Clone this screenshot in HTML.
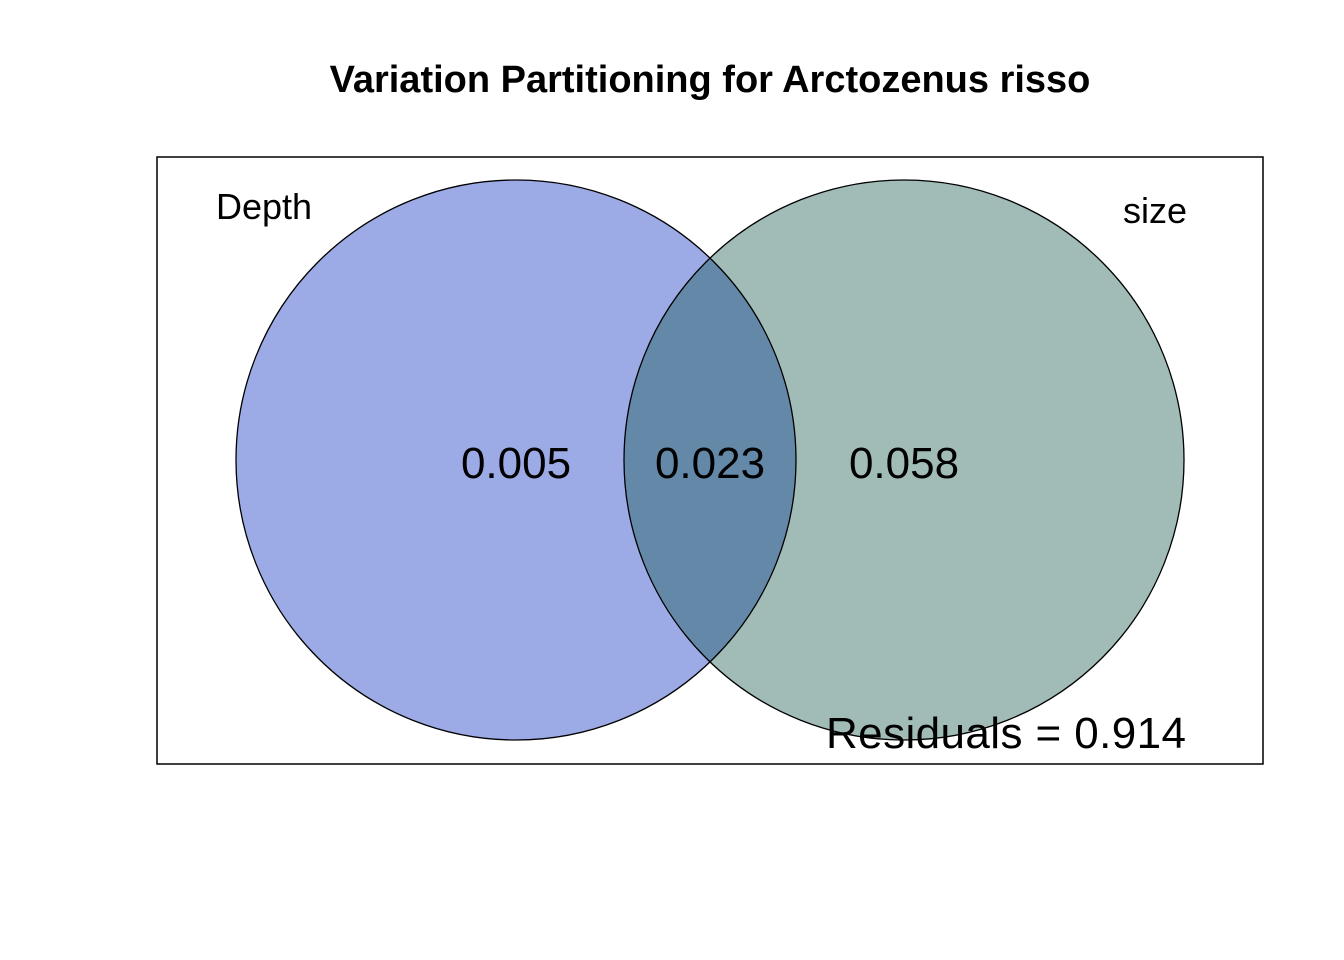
<!DOCTYPE html>
<html><head><meta charset="utf-8"><style>
html,body{margin:0;padding:0;background:#fff;}
svg{display:block;font-family:"Liberation Sans",Arial,sans-serif;}
</style></head><body>
<svg id="chart" width="1344" height="960" viewBox="0 0 1344 960">
<text x="710" y="92" text-anchor="middle" font-size="38" font-weight="bold">Variation Partitioning for Arctozenus risso</text>
<rect x="157" y="157" width="1106" height="607" fill="none" stroke="#000" stroke-width="1.5"/>
<g id="marks"></g>
</svg>
<script>
const setNames = ['Depth', 'size'];
const regionValues = [0.005, 0.023, 0.058];
const residualValue = 0.914;
const NS = 'http://www.w3.org/2000/svg';
const g = document.getElementById('marks');
const cx1 = 516, cx2 = 904, cy = 460, r = 280;
function mk(tag, attrs){const e=document.createElementNS(NS,tag);for(const k in attrs)e.setAttribute(k,attrs[k]);g.appendChild(e);return e;}
const defs = mk('defs',{});
const cp = document.createElementNS(NS,'clipPath'); cp.setAttribute('id','clip1');
const cc = document.createElementNS(NS,'circle'); cc.setAttribute('cx',cx1);cc.setAttribute('cy',cy);cc.setAttribute('r',r);
cp.appendChild(cc); defs.appendChild(cp);
const c1 = mk('circle',{cx:cx1,cy:cy,r:r,fill:'#9CABE6',stroke:'none'});


const c2 = mk('circle',{cx:cx2,cy:cy,r:r,fill:'#A1BBB7',stroke:'none'});


const ov = mk('circle',{cx:cx2,cy:cy,r:r,fill:'#6488A8','clip-path':'url(#clip1)'});


mk('circle',{cx:cx1,cy:cy,r:r,fill:'none',stroke:'#000','stroke-width':1.3});
mk('circle',{cx:cx2,cy:cy,r:r,fill:'none',stroke:'#000','stroke-width':1.3});
const l1 = mk('text',{x:264,y:219,'text-anchor':'middle','font-size':36});
l1.textContent = setNames[0];


const l2 = mk('text',{x:1155,y:223,'text-anchor':'middle','font-size':36});
l2.textContent = setNames[1];


const xs = [516, 710, 904];
const names = ['depth-only-value','shared-value','size-only-value'];
regionValues.forEach((v,i)=>{
  const t = mk('text',{x:xs[i],y:478,'text-anchor':'middle','font-size':44});
  t.textContent = v.toFixed(3);
  
  
});
const rt = mk('text',{x:1186,y:748,'text-anchor':'end','font-size':44,'textLength':360});
rt.textContent = 'Residuals = ' + residualValue.toFixed(3);


</script>
</body></html>
